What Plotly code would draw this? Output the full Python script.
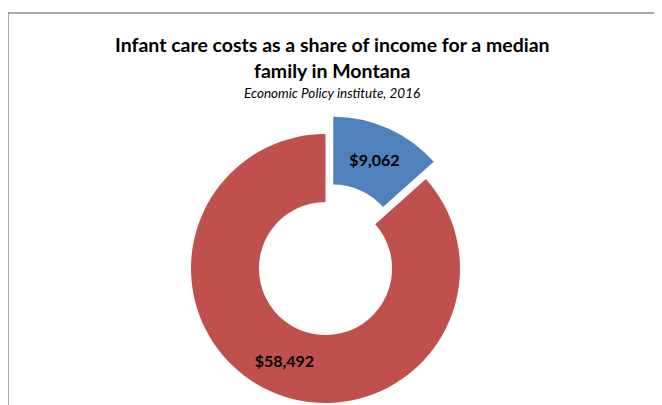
import plotly.graph_objects as go

# Data
labels = ["Infant care cost", "Remaining median family income"]
values = [9062, 58492]
value_text = ["$9,062", "$58,492"]
slice_colors = ["#4F81BD", "#C0504D"]

W, H = 662, 405
OX, OY = 8, 8  # page body margin offset

def px(x):
    return (x - OX) / W

def py(y):
    return 1 - (y - OY) / H

def dom(cx, cy, r):
    return dict(x=[px(cx - r), px(cx + r)], y=[py(cy + r), py(cy - r)])

R = 134.5
CX, CY = 325.5, 268.5
# exploded offset for the first slice
DX, DY = 7.8, -17.3

label_font = dict(family="Lato", size=16, color="black", weight="bold")

fig = go.Figure()
# main ring (second slice visible)
fig.add_trace(go.Pie(
    labels=labels, values=values, sort=False, direction="clockwise", rotation=0,
    hole=0.495,
    marker=dict(colors=["rgba(0,0,0,0)", slice_colors[1]], line=dict(width=0)),
    text=["", value_text[1]], textinfo="text", textposition="inside",
    insidetextorientation="horizontal", textfont=label_font,
    hoverinfo="skip", showlegend=False, domain=dom(CX, CY, R),
))
# exploded slice
fig.add_trace(go.Pie(
    labels=labels, values=values, sort=False, direction="clockwise", rotation=0,
    hole=0.495,
    marker=dict(colors=[slice_colors[0], "rgba(0,0,0,0)"], line=dict(width=0)),
    text=[value_text[0], ""], textinfo="text", textposition="inside",
    insidetextorientation="horizontal", textfont=label_font,
    hoverinfo="skip", showlegend=False, domain=dom(CX + DX, CY + DY, R),
))

anns = [
    dict(text="<b>Infant care costs as a share of income for a median</b>", y=45, size=19.5),
    dict(text="<b>family in Montana</b>", y=70, size=19.5),
    dict(text="<i>Economic Policy institute, 2016</i>", y=93, size=13.5),
]
for a in anns:
    fig.add_annotation(text=a["text"], x=px(332), y=py(a["y"]), xref="paper", yref="paper",
                       xanchor="center", yanchor="middle", showarrow=False,
                       font=dict(family="Lato", size=a["size"], color="black"))

# chart-area border
fig.add_shape(type="path", xref="paper", yref="paper",
              path=f"M {px(8)} {-0.1} L {px(8)} {py(13)} L 1.1 {py(13)}",
              line=dict(color="#8C8C8C", width=1.5))

fig.update_layout(width=W, height=H, margin=dict(l=0, r=0, t=0, b=0),
                  paper_bgcolor="white", plot_bgcolor="white")
fig.write_html("out.html")
